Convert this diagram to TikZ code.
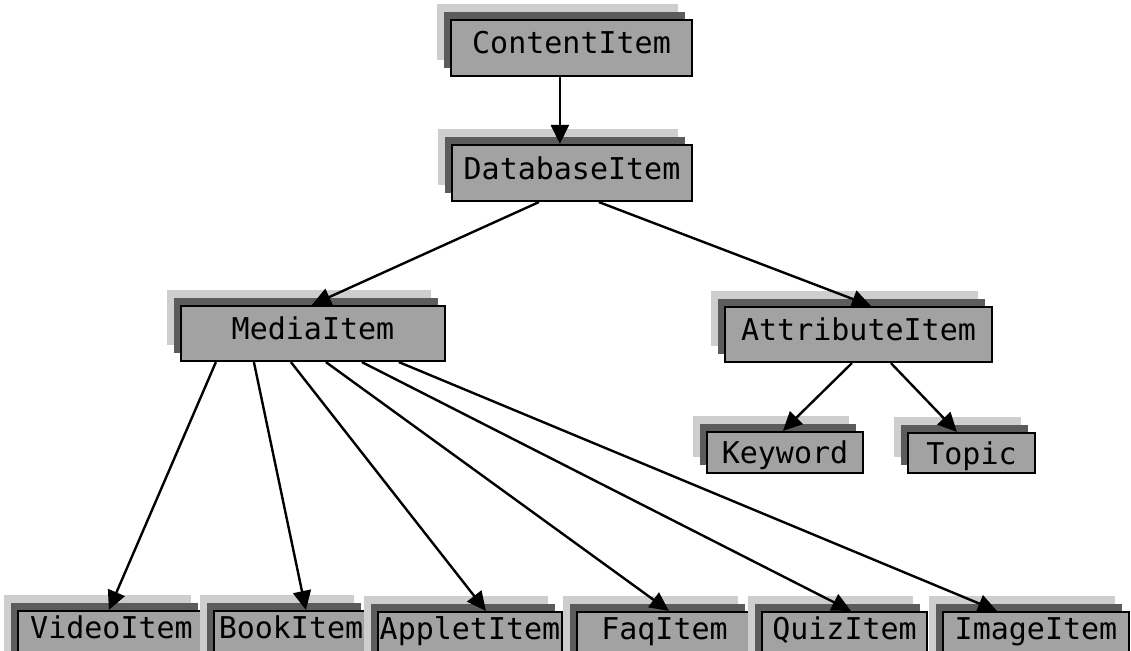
\documentclass[tikz,border=0pt]{standalone}
\usepackage{fontspec}
\setmonofont{DejaVu Sans Mono}
\usetikzlibrary{arrows.meta,shadows}
\definecolor{boxfill}{RGB}{162,162,162}
\definecolor{shadowdark}{RGB}{92,92,92}
\definecolor{shadowlight}{RGB}{206,206,206}
\tikzset{
  cls/.style={rectangle, draw=black, line width=2.2pt, fill=boxfill, inner sep=0pt,
    font=\ttfamily\fontsize{30}{36}\selectfont, text height=22pt, text depth=10pt,
    general shadow={shadow xshift=-14pt, shadow yshift=16pt, fill=shadowlight, draw=none},
    general shadow={shadow xshift=-7pt, shadow yshift=8pt, fill=shadowdark, draw=none}},
  leafrow/.style={cls, minimum height=56pt, text depth=24pt},
  smallcls/.style={cls, text depth=0pt},
  inh/.style={line width=2.4pt, -{Triangle[length=19pt,width=18pt]}}
}
\begin{document}
\begin{tikzpicture}[x=1pt,y=-1pt]
\useasboundingbox (0,0) rectangle (1131,650);
\clip (0,0) rectangle (1131,650);

% class boxes
\node[cls, minimum width=241pt, minimum height=56pt] (content)  at (571.5,48)  {ContentItem};
\node[cls, minimum width=240pt, minimum height=56pt] (database) at (572,173)   {DatabaseItem};
\node[cls, minimum width=264pt, minimum height=55pt] (media)    at (313,333.5) {MediaItem};
\node[cls, minimum width=267pt, minimum height=55pt] (attr)     at (858.5,334.5) {AttributeItem};
\node[smallcls, minimum width=156pt, minimum height=41pt] (keyword) at (785,452.5) {Keyword};
\node[smallcls, minimum width=127pt, minimum height=40pt] (topic)   at (971.5,453) {Topic};

\node[leafrow, minimum width=187pt] (video)  at (111.5,639) {VideoItem};
\node[leafrow, minimum width=154pt] (book)   at (291,639)   {BookItem};
\node[leafrow, minimum width=184pt] (applet) at (470,640)   {AppletItem};
\node[leafrow, minimum width=175pt] (faq)    at (664.5,640) {FaqItem};
\node[leafrow, minimum width=165pt] (quiz)   at (844.5,640) {QuizItem};
\node[leafrow, minimum width=186pt] (image)  at (1036,640)  {ImageItem};

% inheritance connectors
\draw[inh] ([xshift=110pt]content.south west) -- ([xshift=109pt]database.north west);
\draw[inh] ([xshift=88pt]database.south west)  -- ([xshift=132pt]media.north west);
\draw[inh] ([xshift=148pt]database.south west) -- ([xshift=147pt]attr.north west);
\draw[inh] ([xshift=128pt]attr.south west) -- ([xshift=77pt]keyword.north west);
\draw[inh] ([xshift=167pt]attr.south west) -- ([xshift=50pt]topic.north west);

\draw[inh] ([xshift=36pt]media.south west)  -- ([xshift=92pt]video.north west);
\draw[inh] ([xshift=74pt]media.south west)  -- ([xshift=93pt]book.north west);
\draw[inh] ([xshift=111pt]media.south west) -- ([xshift=109pt]applet.north west);
\draw[inh] ([xshift=146pt]media.south west) -- ([xshift=93pt]faq.north west);
\draw[inh] ([xshift=182pt]media.south west) -- ([xshift=90pt]quiz.north west);
\draw[inh] ([xshift=219pt]media.south west) -- ([xshift=55pt]image.north west);
\end{tikzpicture}
\end{document}
